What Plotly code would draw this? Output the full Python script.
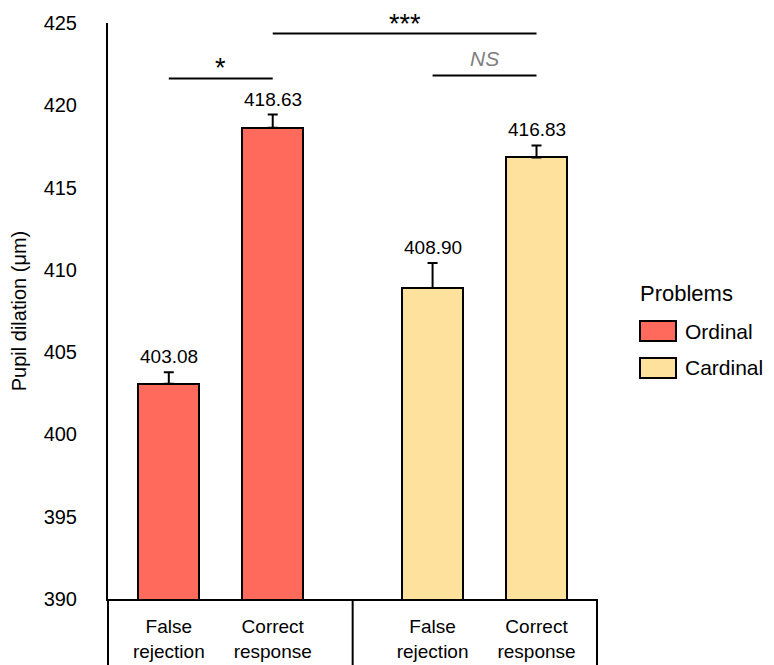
import plotly.graph_objects as go

# ---- data ----
series_names = ["Ordinal", "Cardinal"]
conditions = ["False<br>rejection", "Correct<br>response"]
ordinal_values = [403.08, 418.63]
cardinal_values = [408.90, 416.83]
ordinal_errors = [0.70, 0.81]
cardinal_errors = [1.52, 0.73]
y_ticks = [390, 395, 400, 405, 410, 415, 420, 425]

# significance marks: (group_a, cond_a, group_b, cond_b, label, y-level)
sig_marks = [
    (0, 0, 0, 1, "*", 421.63),
    (0, 1, 1, 1, "***", 424.36),
    (1, 0, 1, 1, "NS", 421.81),
]

# ---- layout constants ----
OFF = 8  # page body margin
W, H = 774 - OFF, 665 - OFF
L, R, T, B = 100, 177, 15, 66
PW, PH = W - L - R, H - T - B
GROUP_GAP = 2.538
BAR_W = 0.59
colors = ["#FF6A5C", "#FFE19E"]
FONT = "Liberation Sans, Arial, sans-serif"


def px_x(x):
    return (x - OFF - L) / PW


def px_y(y):
    return (H + OFF - B - y) / PH


def pos(g, i):
    return g * GROUP_GAP + i


values = [ordinal_values, cardinal_values]
errors = [ordinal_errors, cardinal_errors]

fig = go.Figure()
annotations = []
for g, name in enumerate(series_names):
    xs = [pos(g, i) for i in range(len(conditions))]
    fig.add_trace(go.Bar(
        x=xs, y=values[g], width=BAR_W, name=name, showlegend=False,
        marker=dict(color=colors[g], line=dict(color="black", width=2)),
        error_y=dict(type="data", array=errors[g], arrayminus=[0] * len(xs),
                     symmetric=False, color="black", thickness=2, width=5),
    ))
    for x, v, e in zip(xs, values[g], errors[g]):
        annotations.append(dict(
            x=x, y=v + e, xref="x", yref="y", text=f"{v:.2f}", showarrow=False,
            yanchor="bottom", yshift=3, font=dict(family=FONT, size=19, color="black")))

shapes = []
for ga, ca, gb, cb, label, ylev in sig_marks:
    xa, xb = pos(ga, ca), pos(gb, cb)
    shapes.append(dict(type="line", xref="x", yref="y", x0=xa, x1=xb, y0=ylev, y1=ylev,
                       line=dict(color="black", width=2)))
    if label == "NS":
        annotations.append(dict(x=(xa + xb) / 2, y=ylev, xref="x", yref="y",
                                text="<i>NS</i>", showarrow=False, yanchor="bottom", yshift=4,
                                font=dict(family=FONT, size=21, color="#808080")))
    else:
        annotations.append(dict(x=(xa + xb) / 2, y=ylev, xref="x", yref="y",
                                text=label, showarrow=False, yanchor="bottom", yshift=-7,
                                font=dict(family=FONT, size=27, color="black")))

# bottom category box
divider = (pos(0, len(conditions) - 1) + pos(1, 0)) / 2
for xr, xv in (("paper", 0), ("x", divider), ("paper", 1)):
    shapes.append(dict(type="line", xref=xr, yref="paper", x0=xv, x1=xv, y0=0, y1=-0.2,
                       line=dict(color="black", width=2)))

# manual legend
annotations.append(dict(x=px_x(638), y=px_y(293), xref="paper", yref="paper", text="Problems",
                        showarrow=False, xanchor="left", yanchor="middle",
                        font=dict(family=FONT, size=22, color="black")))
for k, name in enumerate(series_names):
    cy = 331 + k * 37
    shapes.append(dict(type="rect", xref="paper", yref="paper",
                       x0=px_x(640), x1=px_x(676), y0=px_y(cy - 10), y1=px_y(cy + 10),
                       fillcolor=colors[k], line=dict(color="black", width=2)))
    annotations.append(dict(x=px_x(683), y=px_y(cy), xref="paper", yref="paper", text=name,
                            showarrow=False, xanchor="left", yanchor="middle",
                            font=dict(family=FONT, size=21, color="black")))

tickvals = [pos(g, i) for g in range(len(series_names)) for i in range(len(conditions))]
ticktext = [c for g in range(len(series_names)) for c in conditions]

fig.update_layout(
    width=W, height=H,
    margin=dict(l=L, r=R, t=T, b=B),
    plot_bgcolor="white", paper_bgcolor="white",
    shapes=shapes, annotations=annotations,
    bargap=0,
    xaxis=dict(range=[-0.585, pos(1, 1) + 0.582], tickvals=tickvals, ticktext=ticktext,
               showgrid=False, zeroline=False, showline=True, linecolor="black", linewidth=2,
               ticks="", ticklabelstandoff=9, automargin=False,
               tickfont=dict(family=FONT, size=19, color="black")),
    yaxis=dict(range=[390, 425], tickvals=y_ticks, showgrid=False, zeroline=False,
               showline=True, linecolor="black", linewidth=2, ticks="", ticklabelstandoff=25,
               tickfont=dict(family=FONT, size=20, color="black"),
               title=dict(text="Pupil dilation (\u03bcm)", standoff=22,
                          font=dict(family=FONT, size=20, color="black")),
               automargin=False),
)
fig.write_html("out.html")
